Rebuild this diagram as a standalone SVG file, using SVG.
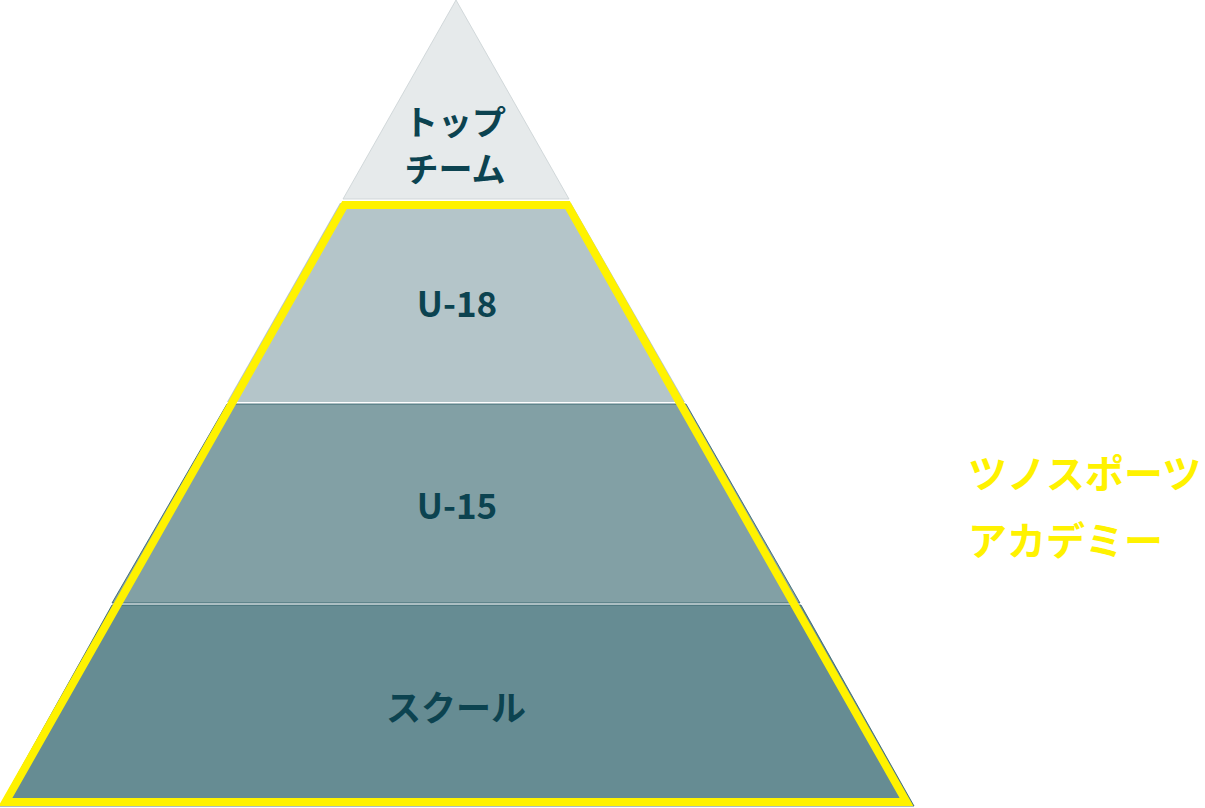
<svg xmlns="http://www.w3.org/2000/svg" width="1205" height="808" viewBox="0 0 1205 808">
<style>
.lbl{font-family:"Noto Sans CJK JP","Noto Sans",sans-serif;font-weight:700;fill:#0c4350;text-anchor:middle}
.side{font-family:"Noto Sans CJK JP",sans-serif;font-weight:700;fill:#fff200;font-size:39px}
</style>
<rect width="1205" height="808" fill="#ffffff"/>
<g id="top-team">
<polygon points="456,0 343,199 569,199" fill="#e6eaeb" stroke="#c9d1d3" stroke-width="0.8"/>
<text class="lbl" x="455" y="135" font-size="34">トップ</text>
<text class="lbl" x="455" y="182" font-size="34">チーム</text>
</g>
<g id="u18">
<polygon points="340,203 571,203 685,402 227,402" fill="#b4c5c9"/>
<text class="lbl" x="457" y="317" font-size="35">U-18</text>
</g>
<g id="u15">
<polygon points="227,404 686,404 800,603 112,603" fill="#82a0a5" stroke="#2f5e68" stroke-width="0.8"/>
<text class="lbl" x="457" y="519" font-size="35">U-15</text>
</g>
<g id="school">
<polygon points="112,605 801,605 914,806 0,806" fill="#668c93" stroke="#2f5e68" stroke-width="0.8"/>
<text class="lbl" x="456" y="721" font-size="35">スクール</text>
</g>
<g id="academy">
<polygon points="344.5,205 567.5,205 906.5,802 5.5,802" fill="none" stroke="#fff200" stroke-width="8" stroke-linejoin="miter"/>
<text class="side" x="968" y="488">ツノスポーツ</text>
<text class="side" x="968" y="555">アカデミー</text>
</g>
<g id="connectors"></g>
</svg>
